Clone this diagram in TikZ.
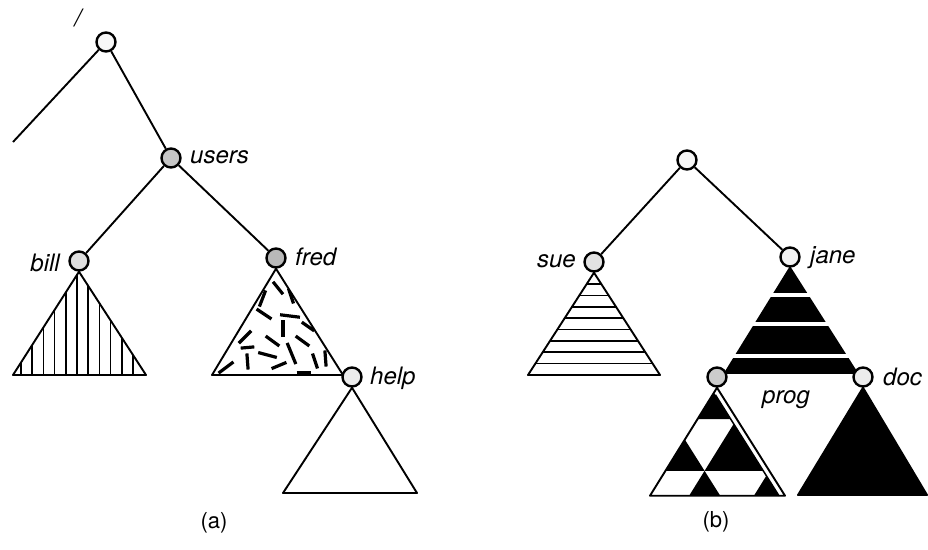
\documentclass[tikz,border=0pt]{standalone}
\usepackage{fontspec}
\usetikzlibrary{calc}
\newfontfamily\labfont{TeX Gyre Heros}
\pgfdeclarelayer{bg}
\pgfsetlayers{bg,main}
\begin{document}
\begin{tikzpicture}[x=1pt,y=-1pt,
  vert/.style={circle,draw,line width=2.4pt,minimum size=19pt,inner sep=0pt},
  edge/.style={line width=1.9pt},
  tri/.style={line width=1.9pt,line join=round},
  hatch/.style={line width=1.7pt},
  dsh/.style={line width=3.2pt},
  lab/.style={font=\labfont\itshape\fontsize{24}{28}\selectfont,inner sep=0pt},
  captext/.style={font=\labfont\fontsize{22}{26}\selectfont,inner sep=0pt}]
\useasboundingbox (0,0) rectangle (928,549);

% ---------- (a) ----------
\node[vert,fill=gray!6]  (ra)    at (106,42)  {};
\node[vert,fill=gray!45] (users) at (171,158) {};
\node[vert,fill=gray!25] (bill)  at (79,261)  {};
\node[vert,fill=gray!55] (fred)  at (276,258) {};
\node[vert,fill=gray!15] (help)  at (352,377) {};
\coordinate (lf) at (13,142);

\draw[edge] (ra) -- (lf);
\draw[edge] (ra) -- (users);
\draw[edge] (users) -- (bill);
\draw[edge] (users) -- (fred);

\node[lab,anchor=base] (tslash) at (78,26) {/};
\node[lab,anchor=base west] (tusers) at (190,163) {users};
\node[lab,anchor=base east] (tbill) at (60,271) {bill};
\node[lab,anchor=base west] (tfred) at (295,265) {fred};
\node[lab,anchor=base west] (thelp) at (370,384) {help};

\begin{pgfonlayer}{bg}
  % bill: vertical hatching
  \begin{scope}
    \clip (bill.south) -- (13,375) -- (146,375) -- cycle;
    \foreach \k in {-5,...,5} \draw[hatch] ({77+11.2*\k},250) -- ++(0,130);
  \end{scope}
  \draw[tri] (bill.south) -- (13,375) -- (146,375) -- cycle;
  % fred: random dashes
  \begin{scope}
    \clip (fred.south) -- (212,375) -- (343,375) -- cycle;
    \foreach \a/\b/\c/\d in {274/283/282/293, 289/290/293/302, 265/292/260/305,
      258/310/270/318, 282/315/298/317, 283/322/283/335, 303/323/313/330,
      250/332/240/342, 267/337/278/345, 297/337/308/345, 242/348/253/347,
      247/355/248/368, 260/353/275/357, 288/345/295/362, 313/355/317/367,
      325/352/326/365, 220/372/232/363, 273/368/285/363, 298/373/310/373}
      \draw[dsh] ($(\a,\b)!-0.12!(\c,\d)$) -- ($(\c,\d)!-0.12!(\a,\b)$);
  \end{scope}
  \draw[tri] (fred.south) -- (212,375) -- (343,375) -- cycle;
  % help: empty
  \draw[tri] (help.south) -- (283,493) -- (417,493) -- cycle;
\end{pgfonlayer}

% ---------- (b) ----------
\node[vert,fill=gray!6]  (rb)   at (687,160) {};
\node[vert,fill=gray!22] (sue)  at (594,262) {};
\node[vert,fill=gray!10] (jane) at (790,257) {};
\node[vert,fill=gray!40] (prog) at (717,377) {};
\node[vert,fill=gray!15] (doc)  at (863,377) {};

\draw[edge] (rb) -- (sue);
\draw[edge] (rb) -- (jane);

\node[lab,anchor=base east] (tsue) at (576,267) {sue};
\node[lab,anchor=base west] (tjane) at (810,263) {jane};
\node[lab,anchor=base west] (tprog) at (762,403) {prog};
\node[lab,anchor=base west] (tdoc) at (883,385) {doc};

\begin{pgfonlayer}{bg}
  % sue: horizontal hatching
  \begin{scope}
    \clip (sue.south) -- (528,375) -- (660,375) -- cycle;
    \foreach \yy in {284,295.5,307,318.3,329.6,341,352.3,363.6}
      \draw[hatch] (520,\yy) -- (670,\yy);
  \end{scope}
  \draw[tri] (sue.south) -- (528,375) -- (660,375) -- cycle;
  % jane: black with white stripes cutting through the outline
  \draw[tri,fill=black] (jane.south) -- (725,373) -- (857,373) -- cycle;
  \begin{scope}
    \clip (790,262) -- (720,376) -- (862,376) -- cycle;
    \fill[white] (700,292.5) rectangle (880,297);
    \fill[white] (700,321.5) rectangle (880,326);
    \fill[white] (700,354) rectangle (880,358);
  \end{scope}
  % prog: triangle checker pattern with white strip on the right edge
  \begin{scope}[shift={(prog.south)},x={(-67pt,-108pt)},y={(68pt,-108pt)}]
    \def\ta{0.29}\def\tb{0.48}\def\tc{0.77}\def\ts{0.045}
    \fill[black] (0,0) -- (\ta,0) -- (0,\ta) -- cycle;
    \fill[black] (\tb,0) -- (\tc,0) -- (\tb,\ta) -- cycle;
    \fill[black] (0,\ta) -- (\tb,\ta) -- (0,\tc) -- cycle;
    \fill[black] (\tb,\ta) -- ({1-\ta},\ta) -- (\tb,{1-\tb}) -- cycle;
    \fill[black] (0,\tc) -- ({1-\tc},\tc) -- (0,1) -- cycle;
    \fill[white] (0,0) -- (\ts,0) -- (\ts,{1-\ts}) -- (0,1) -- cycle;
    \draw[line width=1.5pt] (\ts,0.02) -- (\ts,{1-\ts});
    \draw[tri] (0,0) -- (1,0) -- (0,1) -- cycle;
  \end{scope}
  % doc: solid black
  \draw[tri,fill=black] (doc.south) -- (798,495) -- (927,495) -- cycle;
\end{pgfonlayer}

\node[captext] (capa) at (214,523) {(a)};
\node[captext] (capb) at (716,522) {(b)};
\end{tikzpicture}
\end{document}
